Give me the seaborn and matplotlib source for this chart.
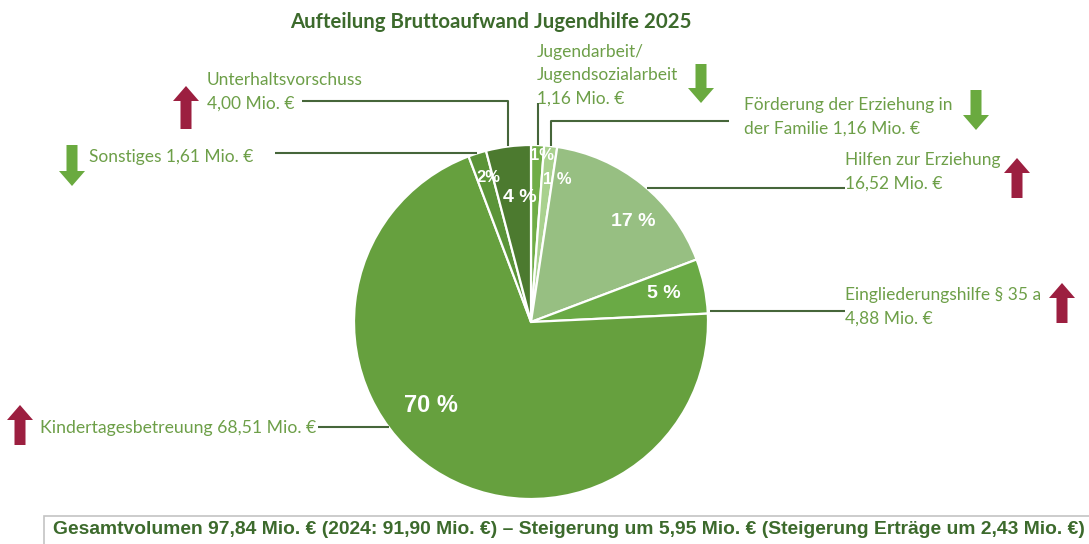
import matplotlib
matplotlib.use("Agg")
import matplotlib.pyplot as plt
import numpy as np
import seaborn as sns

sns.set_theme(style="white")
plt.rcParams['font.family'] = ['Lato', 'DejaVu Sans']

# data (Mio. EUR), order = clockwise from 12 o'clock
categories = ['Jugendarbeit/Jugendsozialarbeit', 'Förderung der Erziehung in der Familie',
              'Hilfen zur Erziehung', 'Eingliederungshilfe § 35 a', 'Kindertagesbetreuung',
              'Sonstiges', 'Unterhaltsvorschuss']
values = [1.16, 1.16, 16.52, 4.88, 68.51, 1.61, 4.00]
pct_labels = ['1%', '1 %', '17 %', '5 %', '70 %', '2%', '4 %']
trend = ['down', 'down', 'up', 'up', 'up', 'down', 'up']
label_texts = ['Jugendarbeit/\nJugendsozialarbeit\n1,16 Mio. €',
               'Förderung der Erziehung in\nder Familie 1,16 Mio. €',
               'Hilfen zur Erziehung\n16,52 Mio. €',
               'Eingliederungshilfe § 35 a\n4,88 Mio. €',
               'Kindertagesbetreuung 68,51 Mio. €',
               'Sonstiges 1,61 Mio. €',
               'Unterhaltsvorschuss\n4,00 Mio. €']
title = 'Aufteilung Bruttoaufwand Jugendhilfe 2025'
footer = 'Gesamtvolumen 97,84 Mio. € (2024: 91,90 Mio. €) – Steigerung um 5,95 Mio. € (Steigerung Erträge um 2,43 Mio. €)'

colors = ['#70ad47', '#a9d18e', '#97bf82', '#6aaa45', '#66a03e', '#5b9438', '#4c7a2f']
txt_green = '#6d9f48'
dark_green = '#3c6a2c'
line_col = '#46663a'
red = '#9c1f40'
arrow_green = '#6aaa3f'

W, H = 1089, 544
fig = plt.figure(figsize=(W / 100, H / 100), dpi=100)
ax = fig.add_axes([0, 0, 1, 1])


def Y(y):
    return H - y


def fit_width(t, width):
    # shrink/grow a text so that it spans the given pixel width
    r = fig.canvas.get_renderer()
    bb = t.get_window_extent(r)
    t.set_fontsize(t.get_fontsize() * width / bb.width)


cx, cy, R = 531, 322, 177
ax.pie(values, colors=colors, startangle=90, counterclock=False,
       center=(cx, Y(cy)), radius=R,
       wedgeprops=dict(edgecolor='white', linewidth=1.6))

ax.set_xlim(0, W)
ax.set_ylim(0, H)
ax.set_aspect('equal')
ax.axis('off')

# wedge anchor points (fraction along each wedge, clockwise)
total = sum(values)
cum = np.concatenate([[0], np.cumsum(values)])
anchor_frac = [0.5, 0.5, 0.53, 0.95, 0.58, 0.5, 0.5]
anchors = []
for i in range(len(values)):
    a = 360 * (cum[i] + anchor_frac[i] * values[i]) / total
    t = np.deg2rad(90 - a)
    anchors.append((cx + R * np.cos(t), cy - R * np.sin(t)))

# percent labels
pct_pos = [(542, 156), (557, 180), (633, 222), (664, 293), (431, 405), (488, 178), (520, 197)]
pct_size = [12, 12, 14, 14, 17, 12, 14]
for (px, py), s, fs in zip(pct_pos, pct_labels, pct_size):
    ax.text(px, Y(py), s, color='white', fontsize=fs, fontweight='bold',
            ha='center', va='center', family=['Liberation Sans', 'DejaVu Sans'])

# category labels
lab_pos = [(537, 44), (744, 97), (845, 152), (845, 287), (40, 428), (89, 157), (207, 72)]
for i, ((lx, ly), s) in enumerate(zip(lab_pos, label_texts)):
    if i == 4:
        t = ax.text(lx, Y(ly), s, color=txt_green, fontsize=11.5, ha='left', va='center')
        fit_width(t, 276)
    elif i == 5:
        ax.text(lx, Y(ly), s, color=txt_green, fontsize=12.5, ha='left', va='center')
    else:
        ax.text(lx, Y(ly), s, color=txt_green, fontsize=12.5, ha='left', va='top',
                linespacing=1.57)

# leader lines
routes = []
ax_, ay_ = anchors[0]
routes.append([(ax_, 103), (ax_, ay_)])
ax_, ay_ = anchors[1]
routes.append([(729, 121), (ax_, 121), (ax_, ay_)])
ax_, ay_ = anchors[2]
routes.append([(ax_, ay_), (845, ay_)])
ax_, ay_ = anchors[3]
routes.append([(ax_ + 2, ay_), (845, ay_)])
ax_, ay_ = anchors[4]
routes.append([(318, ay_), (ax_, ay_)])
ax_, ay_ = anchors[5]
routes.append([(275, ay_), (ax_, ay_)])
ax_, ay_ = anchors[6]
routes.append([(302, 101), (ax_, 101), (ax_, ay_)])
for r in routes:
    xs = [p[0] for p in r]
    ys = [Y(p[1]) for p in r]
    ax.plot(xs, ys, color=line_col, lw=1.5, solid_capstyle='butt')

# trend arrows
arrow_pos = [(701, 64, 103), (976, 90, 130), (1017, 198, 158), (1062, 323, 283),
             (20, 445, 405), (72, 145, 186), (186, 129, 86)]
for (x, y0, y1), tr in zip(arrow_pos, trend):
    c = red if tr == 'up' else arrow_green
    ax.arrow(x, Y(y0), 0, Y(y1) - Y(y0), width=11, head_width=26, head_length=15,
             length_includes_head=True, color=c, lw=0)

# title
t = ax.text(491, Y(22), title, color=dark_green, fontsize=14.5, fontweight='bold',
            ha='center', va='center')
fit_width(t, 400)

# footer box
ax.add_patch(plt.Rectangle((44, Y(544) - 2), 1060, 30, facecolor='white',
                           edgecolor='#c4c4c4', lw=1.2))
t = ax.text(53, Y(529), footer, color=dark_green, fontsize=12, fontweight='bold',
            ha='left', va='center', family=['Liberation Sans', 'DejaVu Sans'])
fit_width(t, 1030)

fig.savefig('out.png', dpi=100)
